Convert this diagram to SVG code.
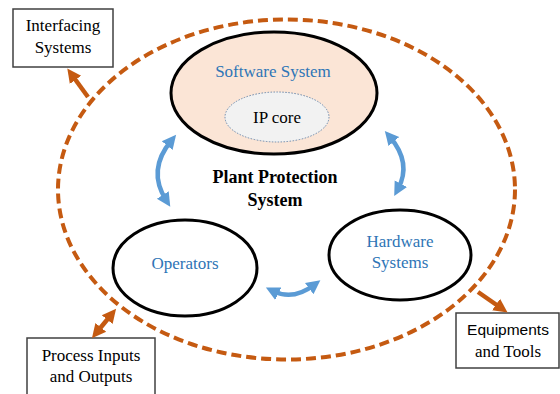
<svg xmlns="http://www.w3.org/2000/svg" width="560" height="394" viewBox="0 0 560 394">
<defs>
<style>
.t{font-family:"Liberation Serif","Times New Roman",serif;font-size:17px;fill:#000;text-anchor:middle}
.b{fill:#2E75B6}
.bold{font-weight:bold;font-size:18px}
.box{fill:#fff;stroke:#404040;stroke-width:1.5}
.node{stroke:#000;stroke-width:3}
.ba{fill:none;stroke:#5B9BD5;stroke-width:4.5}
.oa{fill:none;stroke:#C55A11;stroke-width:4.5}
</style>
<marker id="bh" markerUnits="userSpaceOnUse" markerWidth="16" markerHeight="16" viewBox="0 0 16 16" refX="6" refY="8" orient="auto-start-reverse">
<path d="M0,1 L14,8 L0,15 z" fill="#5B9BD5"/>
</marker>
<marker id="oh" markerUnits="userSpaceOnUse" markerWidth="16" markerHeight="16" viewBox="0 0 16 16" refX="6" refY="8" orient="auto-start-reverse">
<path d="M0,1 L14,8 L0,15 z" fill="#C55A11"/>
</marker>
</defs>
<rect width="560" height="394" fill="#fff"/>
<g id="boundary">
<ellipse cx="286.5" cy="189.5" rx="228.5" ry="170" fill="none" stroke="#C55A11" stroke-width="4" stroke-dasharray="10,5"/>
</g>
<g id="software">
<ellipse class="node" cx="274" cy="93" rx="103" ry="61" fill="#FBE5D6"/>
<text class="t b" x="273" y="77">Software System</text>
</g>
<g id="ipcore">
<ellipse cx="277" cy="117" rx="52" ry="25" fill="#F2F2F2" stroke="#6A89AD" stroke-width="1" stroke-dasharray="1.5,1.5"/>
<text class="t" x="277" y="123">IP core</text>
</g>
<g id="title">
<text class="t bold" x="275" y="183">Plant Protection</text>
<text class="t bold" x="275" y="206">System</text>
</g>
<g id="operators">
<ellipse class="node" cx="185" cy="268" rx="72" ry="48" fill="#fff"/>
<text class="t b" x="185" y="269">Operators</text>
</g>
<g id="hardware">
<ellipse class="node" cx="400" cy="255" rx="71" ry="45" fill="#fff"/>
<text class="t b" x="400" y="247">Hardware</text>
<text class="t b" x="400" y="268">Systems</text>
</g>
<g id="interfacing">
<rect class="box" x="13" y="9" width="100" height="58"/>
<text class="t" x="63" y="31">Interfacing</text>
<text class="t" x="63" y="53">Systems</text>
</g>
<g id="process">
<rect class="box" x="27" y="338" width="128" height="70"/>
<text class="t" x="91" y="361">Process Inputs</text>
<text class="t" x="91" y="382">and Outputs</text>
</g>
<g id="equipments">
<rect class="box" x="456" y="313" width="103" height="55"/>
<text class="t" x="508" y="335" style="font-family:'Liberation Sans',Arial,sans-serif;font-size:15.5px">Equipments</text>
<text class="t" x="508" y="357">and Tools</text>
</g>
<g id="connectors">
<path class="ba" d="M171,141 Q147,170 166,200" marker-start="url(#bh)" marker-end="url(#bh)"/>
<path class="ba" d="M390,137 Q412,163 398,189" marker-start="url(#bh)" marker-end="url(#bh)"/>
<path class="ba" d="M273,291 Q293,301 314,285" marker-start="url(#bh)" marker-end="url(#bh)"/>
<path class="oa" d="M88,97 L72,75" marker-end="url(#oh)"/>
<path class="oa" d="M97,332 L111,315" marker-start="url(#oh)" marker-end="url(#oh)"/>
<path class="oa" d="M478,292 L501,308" marker-end="url(#oh)"/>
</g>
</svg>
